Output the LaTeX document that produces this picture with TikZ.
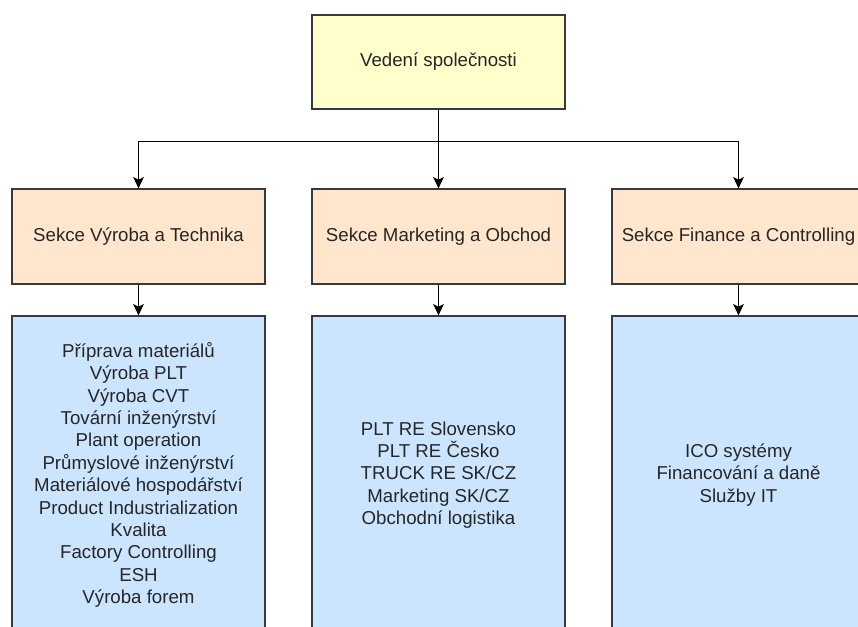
\documentclass[tikz,border=0pt]{standalone}
\usepackage{fontspec}
\setmainfont{Liberation Sans}
\usetikzlibrary{arrows.meta}
\definecolor{leadfill}{HTML}{FFFFCC}
\definecolor{sekcefill}{HTML}{FFE6CC}
\definecolor{seznamfill}{HTML}{CCE5FF}
\definecolor{edgegray}{HTML}{36393D}
\tikzstyle{box} = [rectangle, draw=edgegray, line width=0.9pt, text=black!85, align=center, minimum width=189.75pt, inner sep=0pt, font=\fontsize{14}{16.8}\selectfont]
\tikzstyle{lead} = [box, fill=leadfill, minimum height=70.5pt]
\tikzstyle{sekce} = [box, fill=sekcefill, minimum height=71.25pt]
\tikzstyle{seznam} = [box, fill=seznamfill, minimum height=238.5pt]
\tikzstyle{line} = [draw, -{Stealth[length=8.5pt, width=8pt, inset=2pt]}, line width=0.9pt, black]

\begin{document}
\begin{tikzpicture}[node distance = 225pt, auto]
    \useasboundingbox (0,0) rectangle (643.5pt,-469.5pt);
    \clip (0,0) rectangle (643.5pt,-469.5pt);
    \fill [white] (0,0) rectangle (643.5pt,-469.5pt);

    % Place nodes
    \node [lead] (vedeni) at (328.875pt,-46.5pt) {Vedení společnosti};
    \node [sekce, below of=vedeni, node distance=130.875pt] (marketing) {Sekce Marketing a Obchod};
    \node [sekce, left of=marketing] (vyroba) {Sekce Výroba a Technika};
    \node [sekce, right of=marketing] (finance) {Sekce Finance a Controlling};

    \node [seznam, below of=vyroba, node distance=178.875pt] (vyroba_list) {Příprava materiálů \\ Výroba PLT \\ Výroba CVT \\ Tovární inženýrství \\ Plant operation \\ Průmyslové inženýrství \\ Materiálové hospodářství \\ Product Industrialization \\ Kvalita \\ Factory Controlling \\ ESH \\ Výroba forem};
    \node [seznam, below of=marketing, node distance=178.875pt] (marketing_list) {PLT RE Slovensko \\ PLT RE Česko \\ TRUCK RE SK/CZ \\ Marketing SK/CZ \\ Obchodní logistika};
    \node [seznam, below of=finance, node distance=178.875pt] (finance_list) {ICO systémy \\ Financování a daně \\ Služby IT};

    % Draw edges
    \path [line] (vedeni.south) -- ++(0,-24pt) -| (vyroba.north);
    \path [line] (vedeni.south) -- (marketing.north);
    \path [line] (vedeni.south) -- ++(0,-24pt) -| (finance.north);
    \path [line] (vyroba) -- (vyroba_list);
    \path [line] (marketing) -- (marketing_list);
    \path [line] (finance) -- (finance_list);
\end{tikzpicture}
\end{document}
